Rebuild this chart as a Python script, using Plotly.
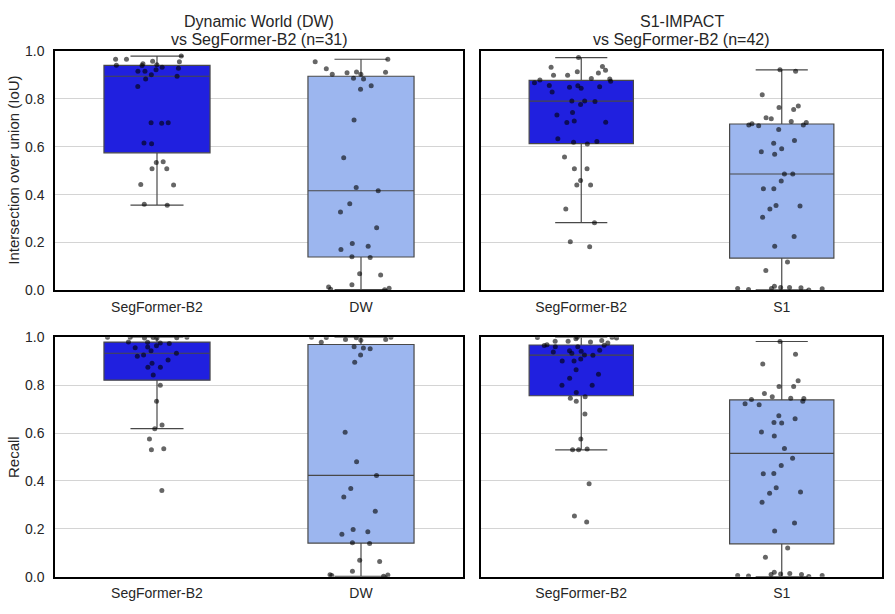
import numpy as np
import plotly.graph_objects as go

# ---------------- data ----------------
categories_dw = ["SegFormer-B2", "DW"]
categories_s1 = ["SegFormer-B2", "S1"]
titles = [["Dynamic World (DW)", "vs SegFormer-B2 (n=31)"], ["S1-IMPACT", "vs SegFormer-B2 (n=42)"]]
row_titles = ["Intersection over union (IoU)", "Recall"]
y_ticks = [0.0, 0.2, 0.4, 0.6, 0.8, 1.0]

iou_dw_seg = [0.978, 0.965, 0.965, 0.957, 0.955, 0.946, 0.942, 0.940, 0.939, 0.932, 0.927,
              0.921, 0.915, 0.915, 0.900, 0.894, 0.882, 0.851, 0.700, 0.698, 0.700, 0.615,
              0.612, 0.537, 0.534, 0.508, 0.508, 0.442, 0.440, 0.360, 0.356]
iou_dw = [0.965, 0.955, 0.925, 0.912, 0.911, 0.909, 0.902, 0.902, 0.886, 0.883, 0.854,
          0.840, 0.711, 0.554, 0.430, 0.416, 0.362, 0.327, 0.262, 0.196, 0.184, 0.171,
          0.138, 0.141, 0.070, 0.064, 0.024, 0.014, 0.005, 0.009, 0.003]
iou_s1_seg = [0.972, 0.935, 0.932, 0.919, 0.913, 0.908, 0.898, 0.898, 0.885, 0.882, 0.878,
              0.873, 0.867, 0.855, 0.854, 0.850, 0.848, 0.844, 0.828, 0.791, 0.791, 0.789,
              0.776, 0.743, 0.732, 0.707, 0.702, 0.701, 0.633, 0.622, 0.618, 0.611, 0.557,
              0.508, 0.508, 0.459, 0.440, 0.440, 0.340, 0.283, 0.203, 0.182]
iou_s1 = [0.921, 0.915, 0.817, 0.770, 0.764, 0.755, 0.721, 0.717, 0.705, 0.701, 0.696,
          0.691, 0.690, 0.687, 0.672, 0.626, 0.614, 0.591, 0.579, 0.568, 0.486, 0.486,
          0.457, 0.424, 0.424, 0.355, 0.352, 0.340, 0.306, 0.225, 0.184, 0.119, 0.083,
          0.018, 0.012, 0.012, 0.011, 0.008, 0.008, 0.007, 0.004, 0.002]
rec_dw_seg = [1.0, 0.998, 0.997, 1.0, 0.996, 0.999, 1.0, 0.980, 0.979, 0.976, 0.974, 0.964,
              0.959, 0.956, 0.943, 0.933, 0.926, 0.920, 0.905, 0.891, 0.875, 0.875, 0.842,
              0.799, 0.733, 0.634, 0.618, 0.575, 0.534, 0.530, 0.360]
rec_dw = [1.0, 1.0, 0.999, 0.998, 0.987, 0.990, 0.990, 0.979, 0.960, 0.955, 0.952, 0.926,
          0.895, 0.603, 0.480, 0.423, 0.368, 0.333, 0.273, 0.197, 0.188, 0.177, 0.142,
          0.139, 0.069, 0.064, 0.023, 0.008, 0.007, 0.005, 0.002]
rec_s1_seg = [1.0, 1.0, 0.999, 0.997, 0.993, 0.986, 0.983, 0.983, 0.980, 0.976, 0.968,
              0.966, 0.965, 0.960, 0.960, 0.945, 0.943, 0.941, 0.938, 0.933, 0.926, 0.925,
              0.909, 0.901, 0.901, 0.864, 0.845, 0.829, 0.799, 0.799, 0.769, 0.751, 0.745,
              0.733, 0.679, 0.575, 0.533, 0.530, 0.530, 0.388, 0.254, 0.229]
rec_s1 = [0.982, 0.929, 0.888, 0.818, 0.794, 0.794, 0.765, 0.751, 0.745, 0.744, 0.740,
          0.733, 0.722, 0.718, 0.672, 0.660, 0.644, 0.642, 0.604, 0.588, 0.535, 0.495,
          0.464, 0.431, 0.430, 0.372, 0.354, 0.349, 0.311, 0.224, 0.191, 0.120, 0.082,
          0.019, 0.014, 0.012, 0.009, 0.009, 0.005, 0.005, 0.003, 0.001]

# ---------------- style ----------------
W, H = 895, 614
FONT = "Liberation Sans, Arial, sans-serif"
TXT = "#262626"
SEG_FILL = "rgb(32,32,223)"
OTHER_FILL = "rgb(156,182,239)"
BOX_LINE = "rgb(72,72,72)"
PT_COLOR = "rgba(0,0,0,0.6)"
BOX_W = 0.52

x_domains = [[55 / W, 463 / W], [481 / W, 882 / W]]
y_domains = [[1 - 290 / H, 1 - 44 / H], [1 - 584 / H, 1 - 338 / H]]

panels = [
    # (row, col, categories, seg data, other data)
    (0, 0, categories_dw, iou_dw_seg, iou_dw),
    (0, 1, categories_s1, iou_s1_seg, iou_s1),
    (1, 0, categories_dw, rec_dw_seg, rec_dw),
    (1, 1, categories_s1, rec_s1_seg, rec_s1),
]


def stats(vals):
    a = np.sort(np.asarray(vals, dtype=float))
    q1, med, q3 = np.percentile(a, [25, 50, 75])
    iqr = q3 - q1
    lo = a[a >= q1 - 1.5 * iqr].min()
    hi = a[a <= q3 + 1.5 * iqr].max()
    return q1, med, q3, lo, hi


fig = go.Figure()
layout = dict(
    width=W, height=H, margin=dict(l=0, r=0, t=0, b=0),
    paper_bgcolor="white", plot_bgcolor="white",
    showlegend=False, boxmode="overlay",
    font=dict(family=FONT, color=TXT, size=14),
)

for i, (r, c, cats, seg, other) in enumerate(panels):
    idx = i + 1
    xa = "x" if idx == 1 else f"x{idx}"
    ya = "y" if idx == 1 else f"y{idx}"
    for cat, vals, fill in [(cats[0], seg, SEG_FILL), (cats[1], other, OTHER_FILL)]:
        q1, med, q3, lo, hi = stats(vals)
        fig.add_trace(go.Box(
            x=[cat], q1=[q1], median=[med], q3=[q3], lowerfence=[lo], upperfence=[hi],
            fillcolor=fill, line=dict(color=BOX_LINE, width=1.2),
            width=BOX_W, whiskerwidth=0.5, boxpoints=False,
            xaxis=xa, yaxis=ya, hoverinfo="skip",
        ))
        fig.add_trace(go.Box(
            x=[cat] * len(vals), y=vals,
            fillcolor="rgba(0,0,0,0)", line=dict(color="rgba(0,0,0,0)", width=0),
            width=BOX_W, boxpoints="all", jitter=1.0, pointpos=0,
            marker=dict(color=PT_COLOR, size=5, line=dict(width=0)),
            xaxis=xa, yaxis=ya, hoverinfo="skip",
        ))
    xkey = "xaxis" if idx == 1 else f"xaxis{idx}"
    ykey = "yaxis" if idx == 1 else f"yaxis{idx}"
    layout[xkey] = dict(
        domain=x_domains[c], anchor=ya, type="category",
        categoryorder="array", categoryarray=cats, range=[-0.5, 1.5],
        showline=True, linecolor="black", linewidth=1.5, mirror=True,
        showgrid=False, zeroline=False,
        ticks="outside", ticklen=3, tickcolor="rgba(0,0,0,0)",
        tickfont=dict(size=14, color=TXT, family=FONT),
    )
    layout[ykey] = dict(
        domain=y_domains[r], anchor=xa, range=[0, 1],
        tickvals=y_ticks, tickformat=".1f",
        showline=True, linecolor="black", linewidth=1.5, mirror=True,
        showgrid=True, gridcolor="#d4d4d4", gridwidth=1, zeroline=False,
        ticks="outside", ticklen=6, tickcolor="rgba(0,0,0,0)",
        showticklabels=(c == 0),
        tickfont=dict(size=14, color=TXT, family=FONT),
    )

annotations = []
for c in range(2):
    for line_i, (txt, ypix) in enumerate(zip(titles[c], [14, 32])):
        annotations.append(dict(
            text=txt, xref="paper", yref="paper",
            x=sum(x_domains[c]) / 2, y=1 - ypix / H, xanchor="center", yanchor="middle",
            showarrow=False, font=dict(size=16, color=TXT, family=FONT),
        ))
for r in range(2):
    annotations.append(dict(
        text=row_titles[r], xref="paper", yref="paper",
        x=14 / W, y=sum(y_domains[r]) / 2, xanchor="center", yanchor="middle",
        textangle=-90, showarrow=False, font=dict(size=15, color=TXT, family=FONT),
    ))
layout["annotations"] = annotations

fig.update_layout(**layout)
fig.write_html("out.html")
